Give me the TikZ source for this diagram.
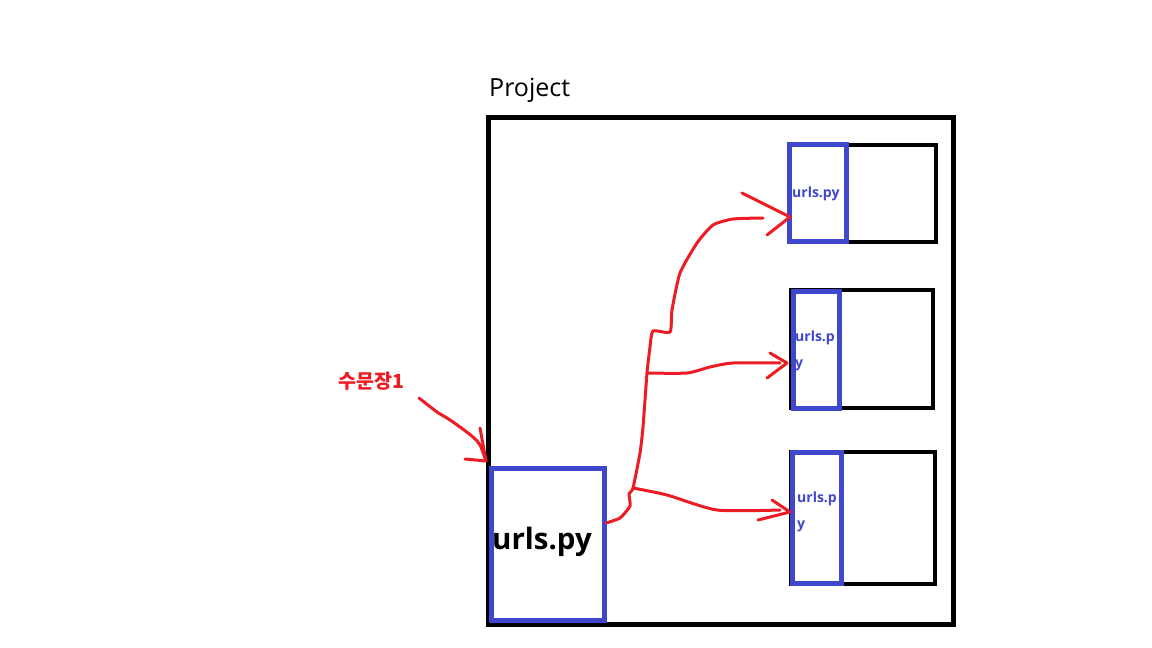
\documentclass[tikz,border=0pt]{standalone}
\usepackage{fontspec}
\setmainfont{Open Sans}
\newfontfamily\kr{Noto Sans CJK KR}
\definecolor{pred}{HTML}{ED1C24}
\definecolor{pblue}{HTML}{3F48CC}
\tikzset{
  blackbox/.style={draw=black, line width=4pt, fill=white, inner sep=0pt, outer sep=0pt},
  bluebox/.style={draw=pblue, line width=5pt, inner sep=0pt, outer sep=0pt},
  smalltxt/.style={text=pblue, font=\fontsize{14}{26}\selectfont\bfseries, anchor=base west, inner sep=0pt, align=left},
  redline/.style={draw=pred, line width=3pt, line cap=round, line join=round},
}
\begin{document}
\begin{tikzpicture}[x=1pt,y=-1pt]
\path[use as bounding box, fill=white] (0,0) rectangle (1152,648);
% Project container
\node[blackbox, line width=5pt, minimum width=465pt, minimum height=507pt] (proj) at (720.5,370.5) {};
\node[anchor=base west, inner sep=0pt, font=\fontsize{25}{30}\selectfont] (projlbl) at (489,96) {Project};
% main urls.py
\node[bluebox, minimum width=113pt, minimum height=152pt] (main) at (548,544.5) {};
\node[anchor=base, inner sep=0pt, font=\fontsize{29.5}{34}\selectfont\bfseries] (maintxt) at (542,549) {urls.py};
% app 1
\node[blackbox, minimum width=147pt, minimum height=97pt] (app1) at (862.5,193.5) {};
\node[bluebox, minimum width=57pt, minimum height=97.5pt] (u1) at (818,193) {};
\node[smalltxt] (t1) at (792,197) {urls.py};
% app 2
\node[blackbox, minimum width=141.5pt, minimum height=118pt] (app2) at (861.75,348.5) {};
\node[bluebox, minimum width=45.5pt, minimum height=116.5pt] (u2) at (816.25,349.75) {};
\node[smalltxt] (t2) at (795,367) {urls.p\\y};
% app 3
\node[blackbox, minimum width=144pt, minimum height=132.5pt] (app3) at (863,517.75) {};
\node[bluebox, minimum width=49pt, minimum height=130.5pt] (u3) at (817,517.75) {};
\node[smalltxt] (t3) at (797,528) {urls.p\\y};
% label
\node[anchor=base west, inner sep=0pt, text=pred, font=\kr\fontsize{19.5}{22}\selectfont\bfseries] (lbl) at (338,388) {수문장1};
% coordinates
\coordinate (ls) at (419,398);
\coordinate (lt) at (486,461);
\coordinate (ms) at (606,523);
\coordinate (b1) at (647,373);
\coordinate (b2) at (633,488);
\coordinate (tip1) at (790,217);
\coordinate (tip2) at (787,363);
\coordinate (tip3) at (790,512);
% label arrow
\draw[redline] plot[smooth, tension=0.5] coordinates {(ls) (437,412) (447,418) (460,427) (473,437) (480,445) (lt)};
\draw[redline] (480,428) -- (lt) -- (465,459);
% main curve to app 1
\draw[redline] plot[smooth, tension=0.35] coordinates {(ms) (620,518) (630,506) (629,494) (b2) (640,453) (643,427) (b1) (650,347) (653,331) (670,332) (672,310) (680,273) (697,243) (713,225) (733,219) (763,218)};
\draw[redline] (742,193) -- (tip1) -- (767,235);
% branch to app 2
\draw[redline] plot[smooth, tension=0.4] coordinates {(b1) (687,373) (710,367) (733,363) (780,363)};
\draw[redline] (770,353) -- (tip2) -- (767,378);
% branch to app 3
\draw[redline] plot[smooth, tension=0.4] coordinates {(b2) (667,495) (717,510) (780,510)};
\draw[redline] (772,500) -- (tip3) -- (758,520);
\end{tikzpicture}
\end{document}
